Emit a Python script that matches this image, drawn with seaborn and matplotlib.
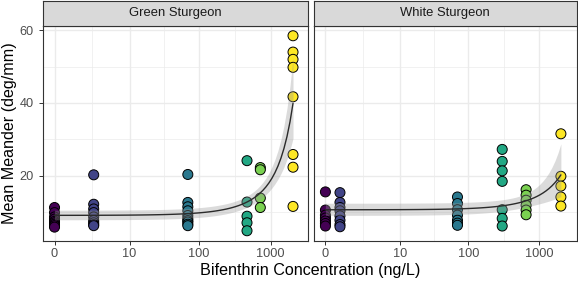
import numpy as np
import pandas as pd
import matplotlib
matplotlib.use("Agg")
import matplotlib.pyplot as plt
import seaborn as sns

# --- DADOS ---
SPECIES = ["Green Sturgeon", "White Sturgeon"]
LEVEL_COLORS = ["#440154", "#414487", "#2A788E", "#22A884", "#7AD151", "#FDE725"]

GREEN_CONC = [0, 2.5, 70, 470, 720, 2050]
GREEN_MEANDER = [
    [11.2, 9.8, 8.6, 8.0, 7.4, 7.0, 6.6, 6.2, 5.8],
    [20.2, 12.1, 10.8, 9.8, 8.6, 7.6, 7.0, 6.5, 6.2],
    [20.3, 12.6, 11.4, 10.3, 9.0, 8.2, 7.6, 7.2, 6.6, 6.2],
    [24.1, 12.7, 8.8, 7.0, 4.8],
    [22.2, 21.6, 13.8, 11.2],
    [58.5, 54.0, 52.0, 49.8, 41.7, 25.8, 22.3, 11.5],
]

WHITE_CONC = [0, 0.6, 70, 300, 650, 2000]
WHITE_MEANDER = [
    [15.5, 10.5, 9.1, 8.3, 7.5, 6.8, 6.1],
    [15.3, 12.6, 11.2, 10.3, 8.9, 7.7, 6.5, 5.9],
    [14.1, 12.3, 10.6, 9.1, 7.7, 6.9, 6.3],
    [27.2, 23.9, 21.3, 18.4, 10.6, 8.2, 6.1],
    [16.1, 14.6, 13.2, 11.8, 10.5, 9.2],
    [31.5, 19.8, 17.1, 14.1, 11.6],
]

X_TICKS = [0, 10, 100, 1000]
Y_TICKS = [20, 40, 60]
Y_MINOR = [10, 30, 50]

# --- TABELA ---
rows = []
for sp, concs, vals in [(SPECIES[0], GREEN_CONC, GREEN_MEANDER),
                        (SPECIES[1], WHITE_CONC, WHITE_MEANDER)]:
    for lvl, (c, vs) in enumerate(zip(concs, vals)):
        for v in vs:
            rows.append({"species": sp, "conc": c, "level": lvl, "meander": v})
df = pd.DataFrame(rows)


def fwd(x):
    return np.log10(np.asarray(x, dtype=float) + 1)


def inv(t):
    return 10 ** np.asarray(t, dtype=float) - 1


def fit_gamma_log(x, y, grid):
    # GLM Gamma com link log (IRLS), IC 95% na escala do link
    X = np.column_stack([np.ones_like(x), x])
    beta = np.array([np.log(y.mean()), 0.0])
    for _ in range(100):
        eta = X @ beta
        mu = np.exp(eta)
        z = eta + (y - mu) / mu
        new = np.linalg.lstsq(X, z, rcond=None)[0]
        if np.allclose(new, beta, rtol=1e-10, atol=1e-12):
            beta = new
            break
        beta = new
    mu = np.exp(X @ beta)
    phi = np.sum(((y - mu) / mu) ** 2) / (len(y) - 2)
    cov = phi * np.linalg.inv(X.T @ X)
    G = np.column_stack([np.ones_like(grid), grid])
    eta_g = G @ beta
    se = np.sqrt(np.einsum("ij,jk,ik->i", G, cov, G))
    return np.exp(eta_g), np.exp(eta_g - 1.96 * se), np.exp(eta_g + 1.96 * se)


# --- FIGURA ---
sns.set_theme(style="white")
plt.rcParams["font.family"] = ["Liberation Sans", "DejaVu Sans"]

W, H = 578, 281
fig = plt.figure(figsize=(W / 100, H / 100), dpi=100)

strip_top, panel_top, panel_bot = 0.5, 26, 240.5
panels = [(43, 308), (314, 576.5)]

ymin = df["meander"].min()
ymax = df["meander"].max()
yr = ymax - ymin
ylim = (ymin - 0.05 * yr, ymax + 0.05 * yr)

edge = "#333333"
for i, (sp, (x0, x1)) in enumerate(zip(SPECIES, panels)):
    ax = fig.add_axes([x0 / W, 1 - panel_bot / H, (x1 - x0) / W, (panel_bot - panel_top) / H])
    ax.set_xscale("function", functions=(fwd, inv))
    sub = df[df["species"] == sp]

    sns.scatterplot(data=sub, x="conc", y="meander", hue="level",
                    palette=dict(enumerate(LEVEL_COLORS)), s=52,
                    edgecolor="black", linewidth=0.7, legend=False, ax=ax, zorder=3)

    xv = sub["conc"].to_numpy(float)
    yv = sub["meander"].to_numpy(float)
    grid = inv(np.linspace(0, fwd(xv.max()), 80))
    mu, lo, hi = fit_gamma_log(xv, yv, grid)
    ax.fill_between(grid, lo, hi, color="#999999", alpha=0.35, lw=0, zorder=4)
    sns.lineplot(x=grid, y=mu, color="#2b2b2b", lw=1.0, ax=ax, zorder=5)

    ax.set_xlim(inv(-0.16), inv(3.52))
    ax.set_ylim(*ylim)
    ax.set_xticks(X_TICKS)
    ax.set_xticklabels([str(t) for t in X_TICKS])
    ax.set_xticks(inv([0.52, 1.52, 2.5]), minor=True)
    ax.set_yticks(Y_TICKS)
    ax.set_yticks(Y_MINOR, minor=True)
    ax.grid(which="major", color="#EBEBEB", lw=1.0)
    ax.grid(which="minor", color="#EBEBEB", lw=0.5)
    ax.set_axisbelow(True)
    ax.set_xlabel("")
    ax.set_ylabel("")
    for s in ax.spines.values():
        s.set_visible(True)
        s.set_color(edge)
        s.set_linewidth(0.8)
    ax.tick_params(which="minor", length=0)
    ax.tick_params(which="major", length=3, width=0.7, color=edge,
                   labelsize=9.2, labelcolor="#4D4D4D")
    ax.tick_params(axis="x", bottom=True, pad=2.5)
    if i == 0:
        ax.tick_params(axis="y", left=True, pad=3.5)
    else:
        ax.tick_params(axis="y", left=False, labelleft=False)

    # faixa do facet
    st = fig.add_axes([x0 / W, 1 - panel_top / H, (x1 - x0) / W, (panel_top - strip_top) / H])
    st.set_facecolor("#D9D9D9")
    st.set_xticks([])
    st.set_yticks([])
    for s in st.spines.values():
        s.set_visible(True)
        s.set_color(edge)
        s.set_linewidth(0.8)
    st.text(0.5, 0.5, sp, ha="center", va="center", fontsize=9.4,
            color="#1A1A1A", transform=st.transAxes)

fig.text((43 + 576.5) / 2 / W, 3 / H, "Bifenthrin Concentration (ng/L)",
         ha="center", va="bottom", fontsize=11.6, color="black")
fig.text(2 / W, 1 - (panel_top + panel_bot) / 2 / H, "Mean Meander (deg/mm)",
         ha="left", va="center", rotation=90, fontsize=11.6, color="black")

fig.savefig("out.png", dpi=100)
